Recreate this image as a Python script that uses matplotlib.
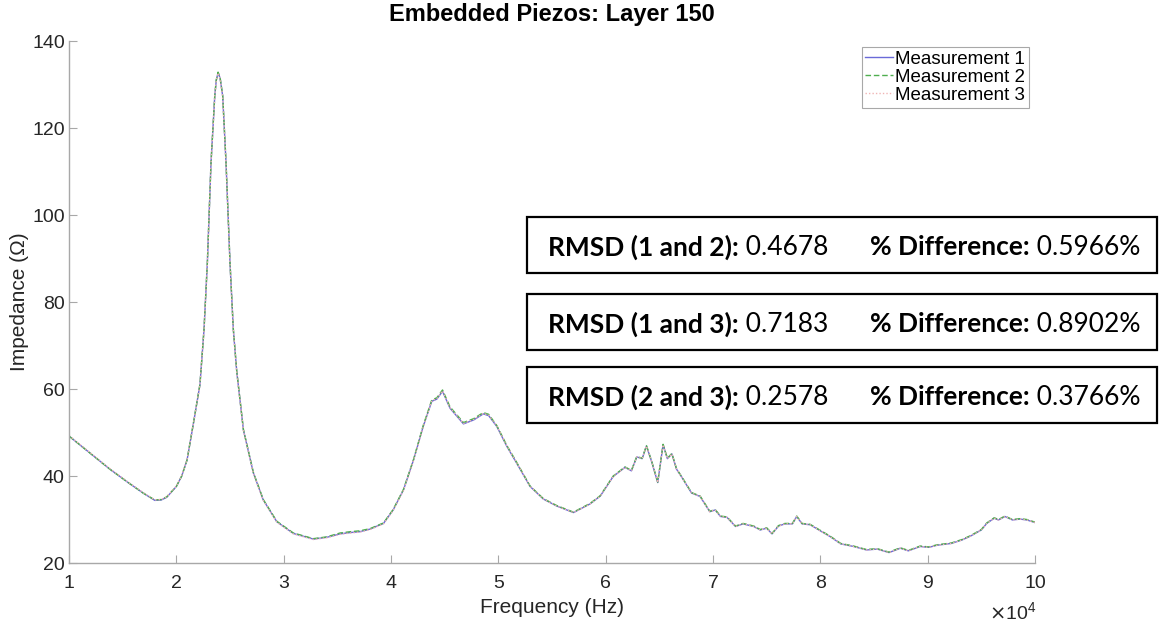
import matplotlib
matplotlib.use('Agg')
import matplotlib.pyplot as plt
from matplotlib.patches import Rectangle

# frequency in units of 1e4 Hz, impedance in ohm
freq_1e4 = [1.00, 1.12, 1.23, 1.38, 1.54, 1.69, 1.80, 1.86, 1.91, 2.00,
            2.05, 2.10, 2.16, 2.22, 2.258, 2.289, 2.323, 2.358, 2.372, 2.389,
            2.408, 2.432, 2.463, 2.50, 2.531, 2.563, 2.625, 2.718, 2.81, 2.936,
            3.09, 3.277, 3.40, 3.526, 3.62, 3.71, 3.805, 3.90, 3.93, 4.02,
            4.116, 4.21, 4.30, 4.38, 4.427, 4.48, 4.55, 4.675, 4.77, 4.86,
            4.91, 4.986, 5.08, 5.17, 5.296, 5.42, 5.545, 5.70, 5.762, 5.855,
            5.95, 6.07, 6.18, 6.24, 6.29, 6.34, 6.38, 6.43, 6.485, 6.535,
            6.575, 6.617, 6.66, 6.71, 6.80, 6.88, 6.97, 7.02, 7.07, 7.13,
            7.21, 7.28, 7.38, 7.44, 7.50, 7.55, 7.61, 7.67, 7.74, 7.78,
            7.83, 7.905, 8.00, 8.09, 8.19, 8.31, 8.43, 8.53, 8.64, 8.745,
            8.82, 8.93, 9.01, 9.09, 9.22, 9.32, 9.40, 9.50, 9.55, 9.62,
            9.66, 9.72, 9.79, 9.86, 9.925, 10.00]

meas_1 = [49.2, 46.8, 44.6, 41.6, 38.7, 36.1, 34.4, 34.5, 35.1, 37.6,
          40.0, 43.7, 52.2, 61.0, 73.7, 89.0, 112.0, 127.4, 131.0, 132.8,
          131.5, 127.4, 112.0, 89.0, 73.7, 64.0, 50.6, 40.7, 34.5, 29.5,
          26.8, 25.5, 25.9, 26.7, 27.0, 27.2, 27.8, 28.8, 29.1, 32.2,
          36.8, 43.7, 51.4, 57.2, 57.7, 59.5, 55.6, 52.0, 52.9, 54.3,
          53.9, 51.4, 46.8, 43.0, 37.6, 34.7, 33.1, 31.6, 32.4, 33.6,
          35.4, 39.9, 42.0, 41.2, 44.4, 44.0, 46.9, 43.2, 38.5, 47.2,
          44.0, 45.1, 41.6, 39.7, 36.1, 35.3, 31.8, 32.2, 30.7, 30.5,
          28.4, 29.0, 28.4, 27.6, 28.0, 26.7, 28.5, 29.0, 29.0, 30.7,
          29.0, 28.8, 27.4, 26.1, 24.4, 23.8, 23.0, 23.2, 22.4, 23.4,
          22.8, 23.8, 23.6, 24.1, 24.5, 25.3, 26.2, 27.6, 29.1, 30.3,
          29.9, 30.7, 29.9, 30.1, 29.9, 29.3]

meas_2 = [49.2, 46.8, 44.6, 41.6, 38.7, 36.1, 34.5, 34.6, 35.2, 37.6,
          40.0, 43.7, 52.3, 61.1, 73.8, 89.1, 112.1, 127.5, 131.1, 132.9,
          131.6, 127.5, 112.1, 89.1, 73.8, 64.1, 50.7, 40.8, 34.6, 29.6,
          26.9, 25.6, 26.0, 26.9, 27.2, 27.4, 27.9, 28.9, 29.2, 32.3,
          36.9, 43.8, 51.6, 57.5, 58.0, 59.8, 55.9, 52.3, 53.2, 54.6,
          54.2, 51.6, 47.0, 43.2, 37.7, 34.8, 33.2, 31.7, 32.5, 33.7,
          35.5, 40.0, 42.1, 41.3, 44.5, 44.1, 47.0, 43.3, 38.6, 47.3,
          44.1, 45.2, 41.7, 39.8, 36.2, 35.4, 31.9, 32.3, 30.8, 30.6,
          28.5, 29.1, 28.5, 27.7, 28.1, 26.8, 28.6, 29.1, 29.1, 30.8,
          29.1, 28.9, 27.5, 26.2, 24.5, 23.9, 23.1, 23.3, 22.5, 23.5,
          22.9, 23.9, 23.7, 24.2, 24.6, 25.4, 26.3, 27.7, 29.2, 30.4,
          30.0, 30.8, 30.0, 30.2, 30.0, 29.4]

meas_3 = [49.3, 46.9, 44.7, 41.7, 38.8, 36.2, 34.5, 34.6, 35.2, 37.7,
          40.1, 43.8, 52.2, 61.0, 73.6, 88.9, 111.9, 127.3, 130.9, 132.7,
          131.4, 127.3, 111.9, 88.9, 73.6, 63.9, 50.5, 40.6, 34.4, 29.4,
          26.7, 25.4, 25.8, 26.6, 26.9, 27.1, 27.7, 28.7, 29.0, 32.1,
          36.7, 43.6, 51.3, 57.3, 57.8, 59.6, 55.7, 52.1, 53.0, 54.4,
          54.0, 51.5, 46.9, 43.1, 37.6, 34.7, 33.1, 31.6, 32.4, 33.6,
          35.4, 39.9, 42.0, 41.2, 44.4, 44.0, 46.9, 43.2, 38.5, 47.2,
          44.0, 45.1, 41.6, 39.7, 36.1, 35.3, 31.8, 32.2, 30.7, 30.5,
          28.4, 29.0, 28.4, 27.6, 28.0, 26.7, 28.5, 29.0, 29.0, 30.7,
          29.0, 28.8, 27.4, 26.1, 24.4, 23.8, 23.0, 23.2, 22.4, 23.4,
          22.8, 23.8, 23.6, 24.1, 24.5, 25.3, 26.2, 27.6, 29.1, 30.3,
          29.9, 30.7, 29.9, 30.1, 29.9, 29.3]

series_labels = ['Measurement 1', 'Measurement 2', 'Measurement 3']

stats_rows = [('RMSD (1 and 2):', '0.4678', '0.5966%'),
              ('RMSD (1 and 3):', '0.7183', '0.8902%'),
              ('RMSD (2 and 3):', '0.2578', '0.3766%')]

W, H = 1168, 623
TXT = '#262626'
plt.rcParams['font.family'] = ['Liberation Sans', 'DejaVu Sans']
fig = plt.figure(figsize=(W / 100, H / 100), dpi=100)
ax = fig.add_axes([69 / W, 1 - 563 / H, (1035 - 69) / W, (563 - 41.3) / H])

ax.plot(freq_1e4, meas_1, color='#6a6ad8', lw=1.0, label=series_labels[0])
ax.plot(freq_1e4, meas_2, color='#4fae4f', lw=1.0, ls=(0, (4, 2)), label=series_labels[1])
ax.plot(freq_1e4, meas_3, color='#f0b4b4', lw=1.0, ls=(0, (1, 1.5)), label=series_labels[2])

ax.set_xlim(1, 10)
ax.set_ylim(20, 140)
ax.set_xticks(range(1, 11))
ax.set_yticks(range(20, 141, 20))
for side in ['top', 'right']:
    ax.spines[side].set_visible(False)
for side in ['left', 'bottom']:
    ax.spines[side].set_color('#a8a8a8')
    ax.spines[side].set_linewidth(1.0)
ax.tick_params(direction='in', length=6, width=0.8, color='#a8a8a8',
               labelsize=14, labelcolor=TXT)
ax.tick_params(axis='x', pad=9)
ax.tick_params(axis='y', pad=3)

ax.set_xlabel('Frequency (Hz)', fontsize=15, color=TXT, labelpad=4)
ax.set_ylabel('Impedance (Ω)', fontsize=15, color=TXT, labelpad=2)
fig.text(1036 / W, 1 - 612 / H, r'$\times\mathregular{10^4}$', ha='right', va='center',
         fontsize=14, color=TXT)

fig.text(552 / W, 1 - 15 / H, 'Embedded Piezos: Layer 150', ha='center', va='center',
         fontsize=17, fontweight='bold', color='black')

leg = ax.legend(loc='upper right', bbox_to_anchor=(1029 / W, 1 - 47 / H),
                bbox_transform=fig.transFigure, fontsize=13.5, frameon=True,
                fancybox=False, edgecolor='#a8a8a8', framealpha=1,
                handlelength=1.5, handletextpad=0.1, borderpad=0.2,
                labelspacing=0.05, borderaxespad=0)
leg.get_frame().set_linewidth(0.8)

# stats boxes with bold labels and plain values
box_tops = [217, 294, 367]
box_h = 56
fig.canvas.draw()
rend = fig.canvas.get_renderer()
for (lab, rmsd, diff), top in zip(stats_rows, box_tops):
    fig.add_artist(Rectangle((527 / W, 1 - (top + box_h) / H), (1157 - 527) / W, box_h / H,
                             transform=fig.transFigure, fill=True, facecolor='white',
                             edgecolor='black', lw=1.6))
    yc = 1 - (top + box_h / 2) / H
    x = 548
    for txt, wt, x_start in [(lab, 'bold', 548), (' ' + rmsd, 'normal', None),
                             ('% Difference:', 'bold', 870), (' ' + diff, 'normal', None)]:
        if x_start is not None:
            x = x_start
        t = fig.text(x / W, yc, txt, ha='left', va='center_baseline', fontsize=19,
                     fontweight=wt, family=['Lato', 'DejaVu Sans'], color='black')
        x += t.get_window_extent(rend).width

fig.savefig('out.png', dpi=100)
